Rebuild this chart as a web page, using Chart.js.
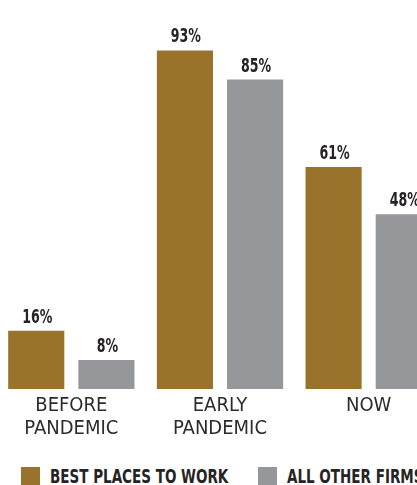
<!DOCTYPE html>
<html>
<head>
<meta charset="utf-8">
<script src="https://cdn.jsdelivr.net/npm/chart.js@4.4.1/dist/chart.umd.min.js"></script>
<style>
  html, body { margin: 0; padding: 0; background: #fff; overflow: hidden; width: 417px; height: 485px; }
  #wrap { position: absolute; left: -3px; top: 0; width: 446px; height: 445px; }
  #leyenda { position: absolute; left: 21px; top: 467px; margin: 0; padding: 0; list-style: none; display: flex; white-space: nowrap; }
  #leyenda li { display: flex; align-items: center; height: 18px; }
  #leyenda li:first-child { width: 237px; }
  #leyenda .caja { width: 19px; height: 18px; margin-right: 10px; flex: none; }
  #leyenda .txt { font: bold 19px "DejaVu Sans Condensed", sans-serif; line-height: 1; color: #262324;
                  display: inline-block; transform: scaleX(0.79); transform-origin: left center; }
</style>
</head>
<body>
<div id="wrap"><canvas id="chartRemoto"></canvas></div>
<ul id="leyenda"></ul>
<script>
var categorias = [['BEFORE', 'PANDEMIC'], ['EARLY', 'PANDEMIC'], 'NOW'];
var mejores = [16, 93, 61];
var otras = [8, 85, 48];
var series = ['BEST PLACES TO WORK', 'ALL OTHER FIRMS'];

var NARROW = '"DejaVu Sans Condensed", "Liberation Sans Narrow", sans-serif';

// valores encima de cada barra, comprimidos a lo ancho
var etiquetas = {
    id: 'etiquetas',
    afterDatasetsDraw: function (chart) {
        var ctx = chart.ctx;
        chart.data.datasets.forEach(function (ds, i) {
            chart.getDatasetMeta(i).data.forEach(function (bar, j) {
                ctx.save();
                ctx.font = 'bold 20px ' + NARROW;
                ctx.fillStyle = '#262324';
                ctx.textAlign = 'center';
                ctx.textBaseline = 'alphabetic';
                ctx.translate(bar.x + 1, bar.y - 8);
                ctx.scale(0.7, 1);
                ctx.fillText(ds.data[j] + '%', 0, 0);
                ctx.restore();
            });
        });
    }
};

var chart = new Chart(document.getElementById('chartRemoto'), {
    type: 'bar',
    data: {
        labels: categorias,
        datasets: [
            { label: series[0], data: mejores, backgroundColor: '#99732C' },
            { label: series[1], data: otras, backgroundColor: '#96979B' }
        ]
    },
    options: {
        responsive: true,
        maintainAspectRatio: false,
        animation: false,
        barPercentage: 0.8,
        categoryPercentage: 0.944,
        layout: { padding: { top: 25, left: 0, right: 0, bottom: 0 } },
        plugins: {
            legend: { display: false },
            tooltip: { enabled: false }
        },
        scales: {
            x: {
                grid: { display: false, drawTicks: false },
                border: { display: false },
                ticks: {
                    color: '#2b2b2b',
                    padding: 5,
                    font: { family: NARROW, size: 20, lineHeight: 1.15 }
                }
            },
            y: { display: false, min: 0, max: 100 }
        }
    },
    plugins: [etiquetas]
});

// leyenda en HTML a partir de los datasets del grafico
var ul = document.getElementById('leyenda');
chart.data.datasets.forEach(function (ds) {
    var li = document.createElement('li');
    var caja = document.createElement('span');
    caja.className = 'caja';
    caja.style.background = ds.backgroundColor;
    var txt = document.createElement('span');
    txt.className = 'txt';
    txt.textContent = ds.label;
    li.appendChild(caja);
    li.appendChild(txt);
    ul.appendChild(li);
});
</script>
</body>
</html>
